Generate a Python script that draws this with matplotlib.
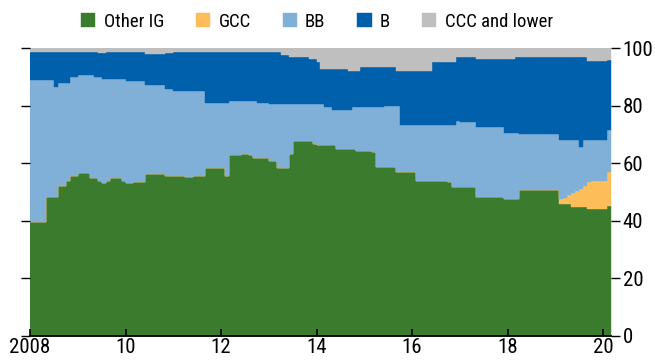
import matplotlib
matplotlib.use("Agg")
import matplotlib.pyplot as plt
import numpy as np

plt.rcParams['font.family'] = ['Liberation Sans Narrow', 'Roboto Condensed',
                               'Liberation Sans', 'DejaVu Sans']

# monthly shares (percent), Jan 2008 - Feb 2020
other_ig = [
    39.5, 39.5, 39.5, 39.5, 48.3, 48.3, 48.3, 52.2, 52.2, 53.9, 55.7, 55.7,  # 2008
    56.5, 56.5, 56.5, 54.9, 54.9, 53.7, 53.2, 53.7, 54.9, 54.9, 54.9, 53.9,  # 2009
    53.0, 53.0, 53.4, 53.4, 53.4, 56.2, 56.2, 56.2, 56.2, 56.2, 55.5, 55.5,  # 2010
    55.7, 55.7, 55.7, 55.1, 55.1, 55.7, 55.7, 55.7, 58.3, 58.3, 58.3, 58.3,  # 2011
    58.3, 55.7, 62.9, 62.9, 62.9, 63.2, 63.2, 62.9, 61.8, 61.8, 61.8, 61.8,  # 2012
    60.7, 60.7, 58.3, 58.3, 58.3, 63.2, 67.8, 67.8, 67.8, 67.8, 67.8, 66.8,  # 2013
    66.4, 66.4, 66.4, 66.4, 66.4, 64.9, 64.9, 64.9, 64.9, 64.9, 64.4, 64.4,  # 2014
    64.4, 64.4, 63.8, 58.8, 58.8, 58.8, 58.8, 58.8, 56.8, 56.8, 56.8, 56.8,  # 2015
    56.8, 53.7, 53.7, 53.7, 53.7, 53.7, 53.7, 53.7, 53.7, 53.4, 51.8, 51.8,  # 2016
    51.8, 51.8, 51.8, 51.8, 48.3, 48.3, 48.3, 48.3, 48.3, 48.3, 48.3, 47.5,  # 2017
    47.5, 47.5, 47.5, 50.7, 50.7, 50.7, 50.7, 50.7, 50.7, 50.7, 50.7, 50.7,  # 2018
    50.7, 46.0, 46.0, 46.0, 44.7, 44.7, 44.7, 44.7, 44.1, 44.1, 44.1, 44.1,  # 2019
    44.1, 45.0,                                                              # 2020
]
gcc = [0.0] * 132 + [
    0.0, 1.5, 2.0, 3.0, 5.0, 5.7, 6.2, 7.5, 9.5, 9.8, 9.8, 9.8,              # 2019
    9.8, 11.8,                                                               # 2020
]
bb = [
    49.4, 49.4, 49.4, 49.4, 40.6, 40.6, 38.1, 35.9, 35.9, 34.2, 34.2, 34.2,
    34.3, 34.3, 34.3, 35.9, 35.0, 36.2, 36.1, 35.6, 34.4, 34.4, 34.4, 35.4,
    35.5, 35.5, 35.1, 35.1, 35.1, 31.1, 31.1, 31.1, 31.1, 31.1, 30.3, 30.3,
    29.5, 29.5, 29.5, 30.1, 30.1, 29.5, 29.5, 29.3, 22.5, 22.5, 22.5, 22.5,
    22.5, 25.1, 18.6, 18.6, 18.6, 18.3, 18.3, 18.6, 19.7, 19.0, 19.0, 19.0,
    19.9, 19.9, 22.3, 22.3, 22.3, 17.4, 12.8, 12.8, 12.8, 12.8, 12.8, 13.8,
    14.2, 14.2, 13.3, 13.3, 12.1, 13.6, 13.6, 13.6, 13.6, 14.8, 15.3, 15.3,
    15.3, 15.3, 15.9, 20.9, 20.9, 21.2, 21.2, 21.2, 23.2, 16.6, 16.6, 16.6,
    16.6, 19.7, 19.7, 19.7, 19.7, 19.7, 19.7, 19.7, 19.7, 20.0, 21.6, 22.8,
    22.4, 22.4, 22.4, 22.4, 24.2, 24.2, 24.2, 24.2, 24.2, 24.2, 24.2, 23.2,
    23.2, 23.2, 23.2, 19.5, 19.5, 19.5, 19.5, 19.5, 19.5, 19.5, 19.5, 19.5,
    19.5, 20.6, 20.1, 19.1, 18.4, 17.7, 14.6, 16.0, 14.6, 14.3, 14.3, 14.3,
    14.3, 14.7,
]
b = [
    9.7, 9.7, 9.7, 9.7, 9.7, 9.7, 12.2, 10.5, 10.5, 10.5, 8.7, 8.7,
    7.8, 7.8, 7.8, 7.8, 8.7, 8.3, 8.9, 9.3, 9.3, 9.3, 9.3, 9.3,
    10.1, 10.1, 10.1, 10.1, 10.1, 10.7, 10.7, 10.7, 10.7, 10.7, 12.4, 12.4,
    13.4, 13.4, 13.4, 13.4, 13.4, 13.4, 13.4, 13.6, 17.8, 17.8, 17.8, 17.8,
    17.8, 17.8, 17.1, 17.1, 17.1, 17.1, 17.1, 17.1, 17.1, 17.8, 17.8, 17.8,
    18.0, 18.0, 18.0, 17.1, 17.1, 16.4, 16.4, 16.4, 16.4, 16.4, 15.6, 15.6,
    14.8, 12.2, 13.1, 13.1, 14.3, 14.3, 14.3, 14.3, 13.7, 12.5, 12.5, 13.9,
    13.9, 13.9, 13.9, 13.9, 13.9, 13.6, 13.6, 13.6, 12.0, 18.6, 18.6, 18.6,
    18.6, 18.6, 18.6, 18.6, 18.6, 21.7, 21.7, 21.7, 21.7, 21.7, 21.7, 22.4,
    22.8, 22.8, 22.8, 22.8, 23.7, 23.7, 23.7, 23.7, 23.7, 23.7, 23.7, 25.5,
    25.5, 25.5, 26.3, 26.8, 26.8, 26.8, 26.8, 26.8, 26.8, 26.8, 26.8, 26.8,
    26.8, 28.9, 28.9, 28.9, 28.9, 28.9, 31.5, 28.8, 27.5, 27.5, 27.5, 27.5,
    27.5, 24.5,
]
ccc = [
    1.4, 1.4, 1.4, 1.4, 1.4, 1.4, 1.4, 1.4, 1.4, 1.4, 1.4, 1.4,
    1.4, 1.4, 1.4, 1.4, 1.4, 1.8, 1.8, 1.4, 1.4, 1.4, 1.4, 1.4,
    1.4, 1.4, 1.4, 1.4, 1.4, 2.0, 2.0, 2.0, 2.0, 2.0, 1.8, 1.8,
    1.4, 1.4, 1.4, 1.4, 1.4, 1.4, 1.4, 1.4, 1.4, 1.4, 1.4, 1.4,
    1.4, 1.4, 1.4, 1.4, 1.4, 1.4, 1.4, 1.4, 1.4, 1.4, 1.4, 1.4,
    1.4, 1.4, 1.4, 2.3, 2.3, 3.0, 3.0, 3.0, 3.0, 3.0, 3.8, 3.8,
    4.6, 7.2, 7.2, 7.2, 7.2, 7.2, 7.2, 7.2, 7.8, 7.8, 7.8, 6.4,
    6.4, 6.4, 6.4, 6.4, 6.4, 6.4, 6.4, 6.4, 8.0, 8.0, 8.0, 8.0,
    8.0, 8.0, 8.0, 8.0, 8.0, 4.9, 4.9, 4.9, 4.9, 4.9, 4.9, 3.0,
    3.0, 3.0, 3.0, 3.0, 3.8, 3.8, 3.8, 3.8, 3.8, 3.8, 3.8, 3.8,
    3.8, 3.8, 3.0, 3.0, 3.0, 3.0, 3.0, 3.0, 3.0, 3.0, 3.0, 3.0,
    3.0, 3.0, 3.0, 3.0, 3.0, 3.0, 3.0, 3.0, 4.3, 4.3, 4.3, 4.3,
    4.3, 4.0,
]

labels = ["Other IG", "GCC", "BB", "B", "CCC and lower"]
colors = ["#3a7b2d", "#fdbe5a", "#80b0d8", "#0060ab", "#bfbfbf"]
year_ticks = [2008, 2010, 2012, 2014, 2016, 2018, 2020]
year_labels = ["2008", "10", "12", "14", "16", "18", "20"]

series = [other_ig, gcc, bb, b, ccc]
n = len(other_ig)
x = 2008 + np.arange(n + 1) / 12.0

fig = plt.figure(figsize=(6.55, 3.64), dpi=100)
ax = fig.add_axes([0.0458, 0.0777, 0.8870, 0.7896])

base = np.zeros(n + 1)
handles = []
for vals, lab, col in zip(series, labels, colors):
    v = np.append(vals, vals[-1])
    top = base + v
    h = ax.fill_between(x, base, top, step="post", facecolor=col,
                        edgecolor=col, linewidth=0.3, label=lab)
    handles.append(h)
    base = top

ax.set_xlim(2008, x[-1])
ax.set_ylim(0, 100)
ax.set_xticks(year_ticks)
ax.set_xticklabels(year_labels)
ax.set_yticks(range(0, 101, 20))

for s in ["top", "left", "right"]:
    ax.spines[s].set_visible(False)
ax.spines["bottom"].set_linewidth(1.3)
ax.spines["bottom"].set_zorder(5)

ax.tick_params(axis="x", direction="in", length=5, width=1.2,
               labelsize=15, pad=1.5)
ax.tick_params(axis="y", direction="out", length=6.5, width=1.0,
               left=True, right=True, labelleft=False, labelright=True,
               labelsize=15, pad=2)

fig.legend(handles, labels, loc="center", bbox_to_anchor=(0.484, 0.94),
           ncol=5, frameon=False, fontsize=13.5, handlelength=0.75,
           handleheight=0.75, handletextpad=0.45, columnspacing=1.7)

fig.savefig("out.png", dpi=100)
